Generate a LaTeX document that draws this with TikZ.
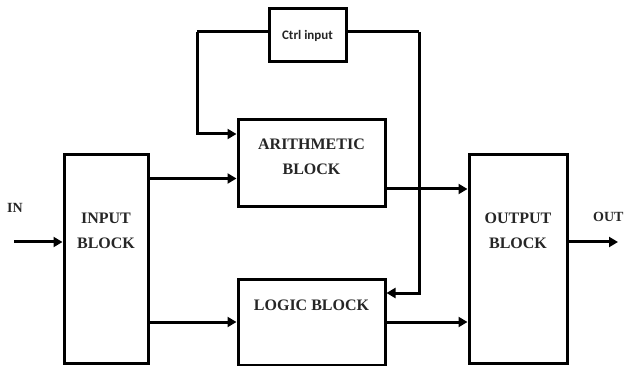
\documentclass[tikz,border=0pt]{standalone}
\usepackage{fontspec}
\setmainfont{Liberation Serif}
\newfontfamily\ctrlfont{Carlito}
\usetikzlibrary{positioning,arrows.meta,calc}

\begin{document}
\begin{tikzpicture}[
  x=1pt, y=-1pt,
  block/.style={rectangle, draw, line width=3pt, fill=white},
  blocktext/.style={font=\fontsize{16}{25}\selectfont\bfseries, align=center, text=black!85},
  link/.style={line width=3pt},
  arrow/.style={line width=3pt, -{Triangle[length=9pt, width=10pt]}},
  iolabel/.style={font=\fontsize{14}{16}\selectfont\bfseries, text=black!85},
]
\useasboundingbox (0,0) rectangle (624,366);

% === Blocks ===
\node[block, minimum width=84pt, minimum height=208pt] (inp) at (106,259) {};
\node[blocktext] (inptxt) at (106,231) {INPUT\\BLOCK};

\node[block, minimum width=147pt, minimum height=87pt] (arith) at (311.5,163.5) {};
\node[blocktext] (arithtxt) at (311.5,157) {ARITHMETIC\\BLOCK};

\node[block, minimum width=147pt, minimum height=86pt] (logic) at (311.5,322) {};
\node[blocktext] (logictxt) at (311.5,305) {LOGIC BLOCK};

\node[block, minimum width=98pt, minimum height=208pt] (out) at (518,259) {};
\node[blocktext] (outtxt) at (518,231) {OUTPUT\\BLOCK};

\node[block, minimum width=77pt, minimum height=53pt,
      font=\ctrlfont\fontsize{13}{15}\selectfont\bfseries, text=black!85] (ctrl) at (307.5,35.5) {Ctrl input};

% === Input / output ===
\coordinate (inend) at (14,242);
\coordinate (outend) at (618,242);
\node[iolabel] (inlbl) at (15,208) {IN};
\node[iolabel, anchor=west, inner sep=0pt] (outlbl) at (593,217) {OUT};

\draw[arrow] (inend) -- (inend -| inp.west);
\draw[arrow] (outend -| out.east) -- (outend);

% === Data paths ===
\draw[arrow] ([yshift=-15pt]arith.west -| inp.east) -- ([yshift=-15pt]arith.west);
\draw[arrow] (logic.west -| inp.east) -- (logic.west);
\draw[arrow] ([yshift=-25.5pt]arith.east) -- ([yshift=-25.5pt]arith.east -| out.west);
\draw[arrow] (logic.east) -- (logic.east -| out.west);

% === Control lines ===
\coordinate (ctrlL) at (197,32);
\coordinate (ctrlR) at (419,32);
\draw[link] (ctrl.west |- ctrlL) -- (ctrlL);
\draw[arrow] (ctrlL) |- ([yshift=29.5pt]arith.west);
\draw[link] (ctrl.east |- ctrlR) -- (ctrlR);
\draw[arrow] (ctrlR) |- ([yshift=29pt]logic.east);

\end{tikzpicture}
\end{document}
